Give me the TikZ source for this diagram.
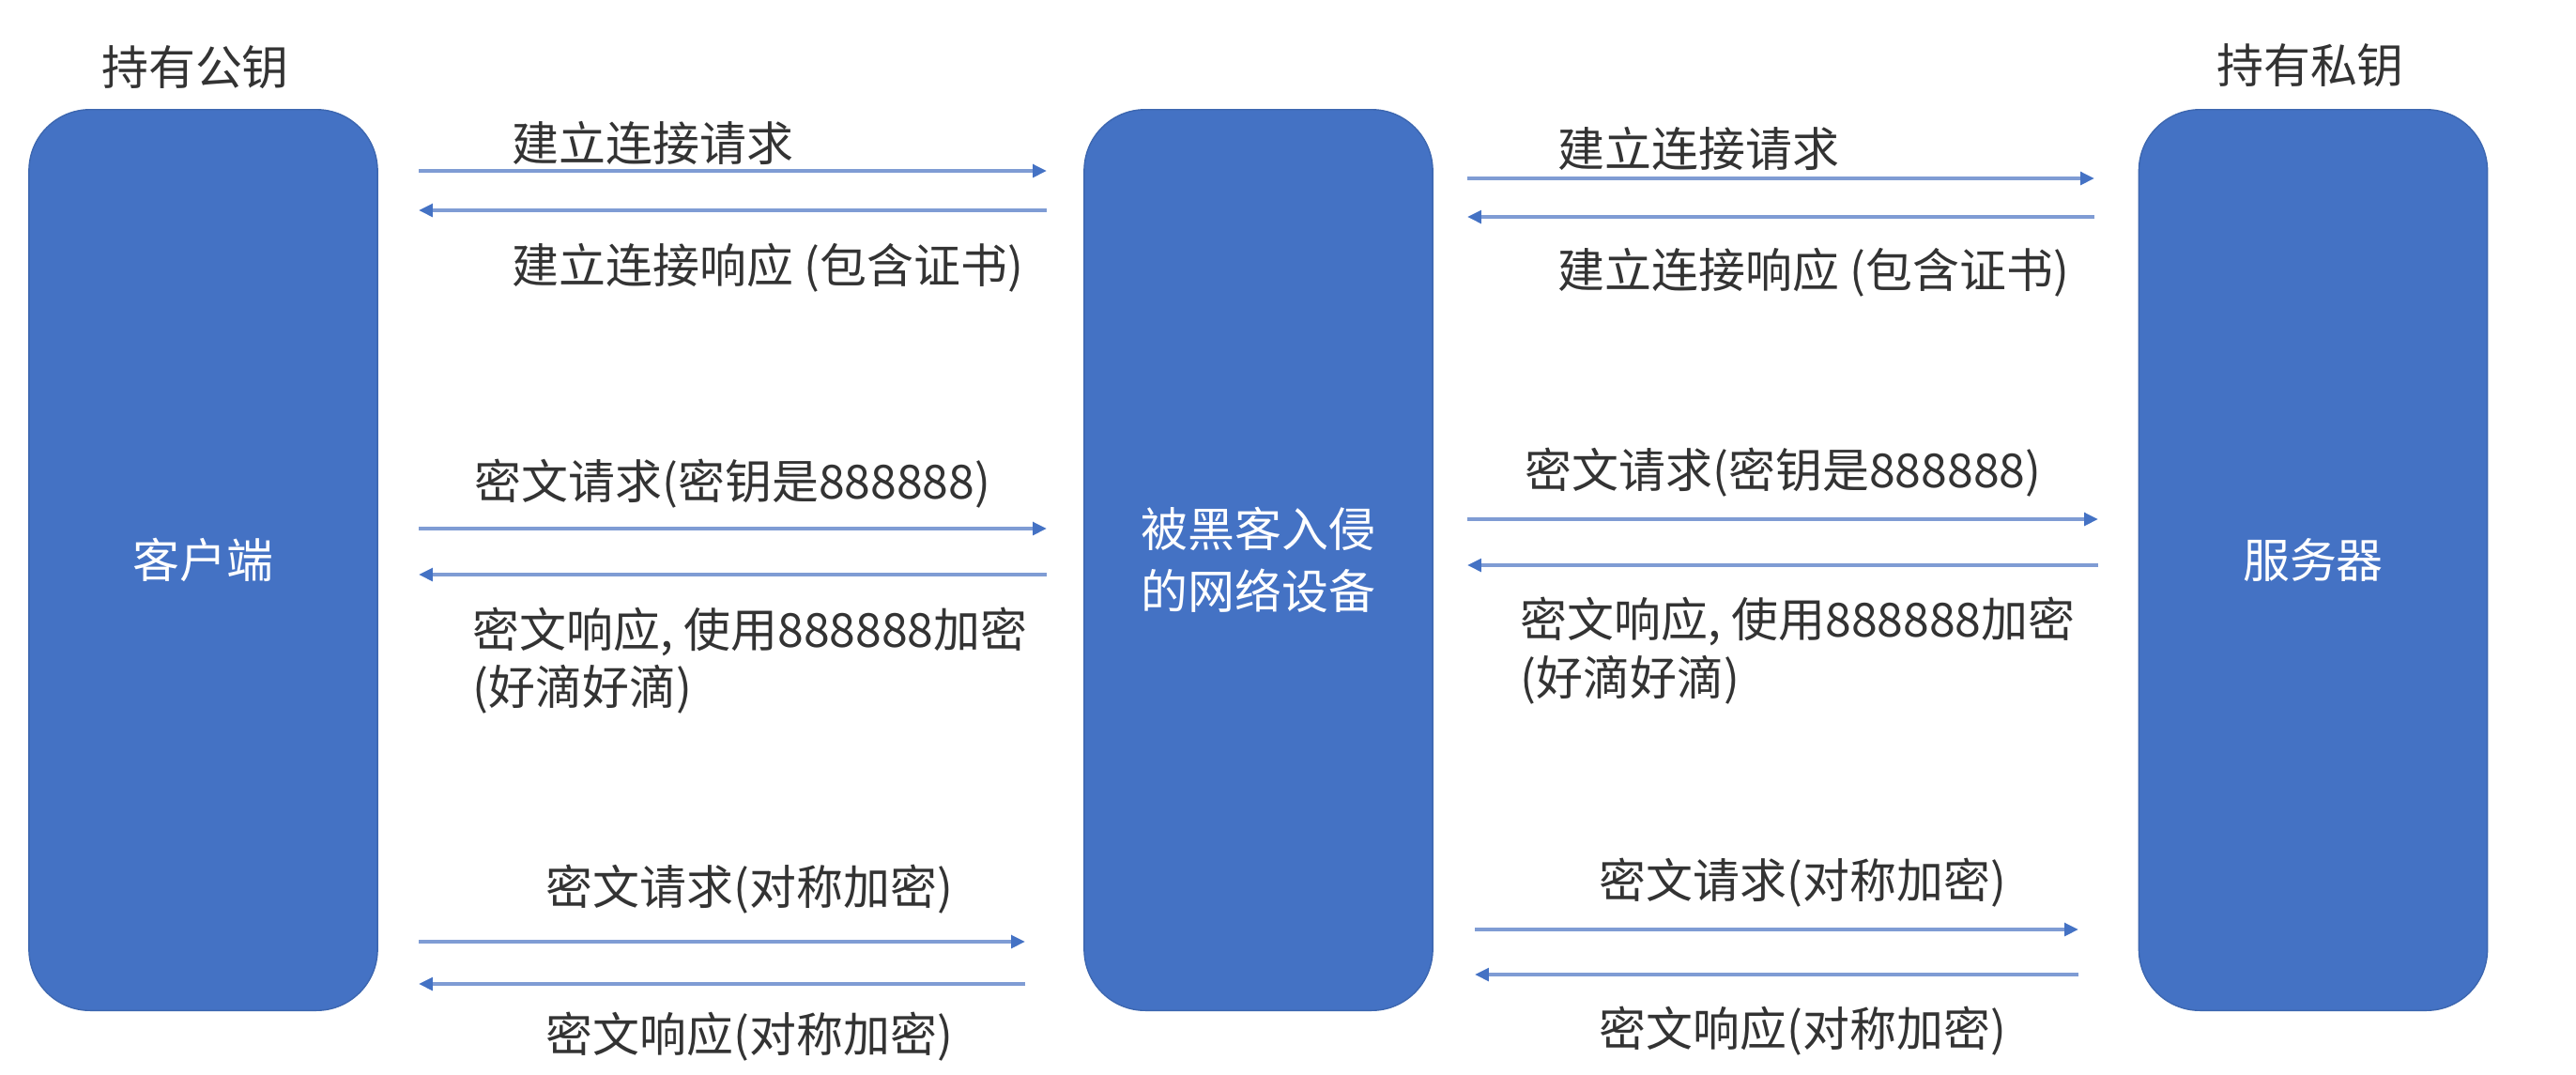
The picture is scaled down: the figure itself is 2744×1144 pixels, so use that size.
\documentclass[tikz,border=0pt]{standalone}
\usepackage{fontspec}
\setmainfont{Noto Sans CJK SC}
\usetikzlibrary{arrows.meta}
\definecolor{boxblue}{HTML}{4472C4}
\definecolor{linecol}{HTML}{7F9CD4}
\definecolor{txt}{HTML}{333333}
\begin{document}
\begin{tikzpicture}[x=0.01cm,y=-0.01cm,
  every node/.style={font=\fontsize{14.2pt}{17.5pt}\selectfont, text=txt, inner sep=0pt},
  party/.style={rectangle, rounded corners=0.65cm, fill=boxblue, draw=boxblue!90!black, line width=0.4pt,
     minimum width=3.71cm, minimum height=9.59cm, text=white, align=center},
  lbl/.style={anchor=west},
  msg/.style={draw=linecol, line width=1.1pt, -{Triangle[length=4.2pt,width=3.8pt,color=boxblue]}}
]
\useasboundingbox (0,0) rectangle (2744,1144);

% boxes
\node[party] (client) at (216.5,596.5) {客户端};
\node[party] (mitm) at (1340.5,596.5) {被黑客入侵\\[0.1em]的网络设备};
\node[party] (server) at (2464,596.5) {服务器};

\node (pub) at (208,72) {持有公钥};
\node (priv) at (2461,70) {持有私钥};

% ---- left segment endpoints
\coordinate (l1a) at (446,182);  \coordinate (l1b) at (1115,182);
\coordinate (l2a) at (446,224);  \coordinate (l2b) at (1115,224);
\coordinate (l3a) at (446,563);  \coordinate (l3b) at (1115,563);
\coordinate (l4a) at (446,612);  \coordinate (l4b) at (1115,612);
\coordinate (l5a) at (446,1003); \coordinate (l5b) at (1092,1003);
\coordinate (l6a) at (446,1048); \coordinate (l6b) at (1092,1048);

\draw[msg] (l1a) -- (l1b);
\draw[msg] (l2b) -- (l2a);
\draw[msg] (l3a) -- (l3b);
\draw[msg] (l4b) -- (l4a);
\draw[msg] (l5a) -- (l5b);
\draw[msg] (l6b) -- (l6a);

\node[lbl] (t1) at (545,152) {建立连接请求};
\node[lbl] (t2) at (545,285) {建立连接响应 (包含证书)};
\node[lbl] (t3) at (505,515) {密文请求(密钥是888888)};
\node[lbl] (t4) at (503,673) {密文响应, 使用888888加密};
\node[lbl] (t5) at (503,734) {(好滴好滴)};
\node[lbl] (t6) at (581,947) {密文请求(对称加密)};
\node[lbl] (t7) at (581,1104) {密文响应(对称加密)};

% ---- right segment endpoints
\coordinate (r1a) at (1563,190);  \coordinate (r1b) at (2231,190);
\coordinate (r2a) at (1563,231);  \coordinate (r2b) at (2231,231);
\coordinate (r3a) at (1563,553);  \coordinate (r3b) at (2235,553);
\coordinate (r4a) at (1563,602);  \coordinate (r4b) at (2235,602);
\coordinate (r5a) at (1571,990);  \coordinate (r5b) at (2214,990);
\coordinate (r6a) at (1571,1038); \coordinate (r6b) at (2214,1038);

\draw[msg] (r1a) -- (r1b);
\draw[msg] (r2b) -- (r2a);
\draw[msg] (r3a) -- (r3b);
\draw[msg] (r4b) -- (r4a);
\draw[msg] (r5a) -- (r5b);
\draw[msg] (r6b) -- (r6a);

\node[lbl] (u1) at (1659,158) {建立连接请求};
\node[lbl] (u2) at (1659,290) {建立连接响应 (包含证书)};
\node[lbl] (u3) at (1624,503) {密文请求(密钥是888888)};
\node[lbl] (u4) at (1619,662) {密文响应, 使用888888加密};
\node[lbl] (u5) at (1619,724) {(好滴好滴)};
\node[lbl] (u6) at (1703,940) {密文请求(对称加密)};
\node[lbl] (u7) at (1703,1098) {密文响应(对称加密)};
\end{tikzpicture}
\end{document}
